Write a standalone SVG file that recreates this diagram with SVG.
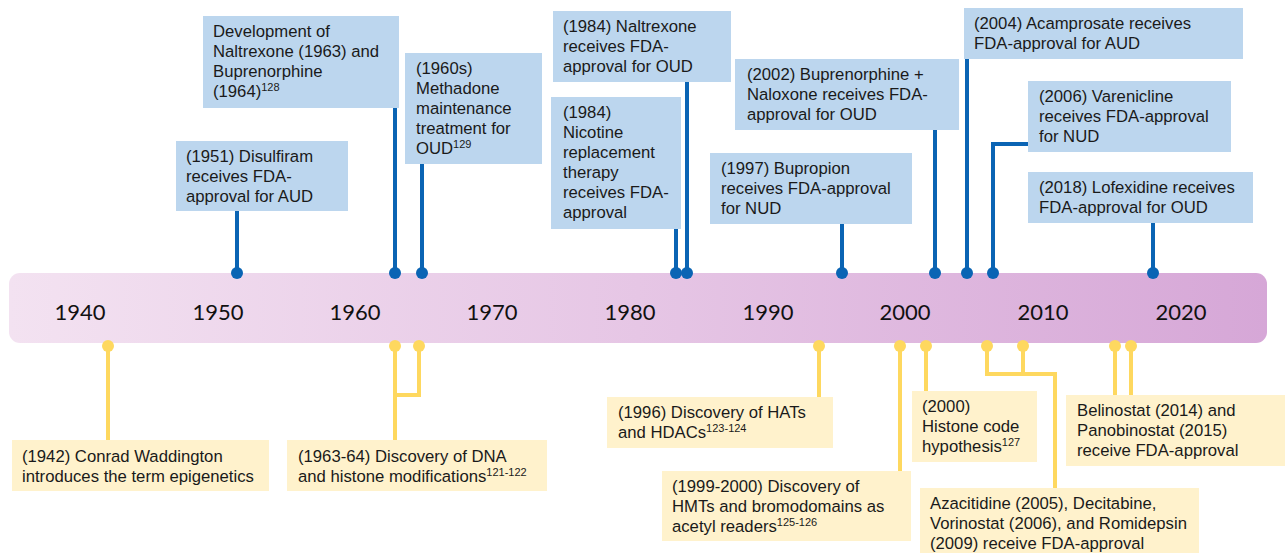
<svg xmlns="http://www.w3.org/2000/svg" width="1285" height="553" viewBox="0 0 1285 553">
<defs>
<linearGradient id="barGrad" x1="0" y1="0" x2="1" y2="0">
<stop offset="0" stop-color="#f3e2f1"/>
<stop offset="0.5" stop-color="#e6c6e5"/>
<stop offset="1" stop-color="#d6a7d7"/>
</linearGradient>
<style>
.t{font-family:"Liberation Sans",Arial,sans-serif;font-size:16.7px;fill:#1a1a1a;}
.sup{font-size:11px;}
.yr{font-family:Lato,"Open Sans",sans-serif;font-size:22px;fill:#111;text-anchor:middle;}
.bbox{fill:#bcd6ee;}
.ybox{fill:#fff2cc;}
.bl{stroke:#0a64b4;stroke-width:4;fill:none;}
.yl{stroke:#fed85f;stroke-width:4;fill:none;}
.bd{fill:#0a64b4;}
.yd{fill:#fed85f;}
</style>
</defs>
<rect id="bg" x="0" y="0" width="1285" height="553" fill="#ffffff"/>
<g id="timeline">
<rect x="9" y="273" width="1258" height="70" rx="11" fill="url(#barGrad)"/>
<text class="yr" x="80" y="320">1940</text>
<text class="yr" x="218" y="320">1950</text>
<text class="yr" x="355" y="320">1960</text>
<text class="yr" x="492" y="320">1970</text>
<text class="yr" x="630" y="320">1980</text>
<text class="yr" x="768" y="320">1990</text>
<text class="yr" x="905" y="320">2000</text>
<text class="yr" x="1043" y="320">2010</text>
<text class="yr" x="1181" y="320">2020</text>
</g>
<g id="connectors">
<path class="bl" d="M237 211V273"/>
<path class="bl" d="M395 108V273"/>
<path class="bl" d="M422 164V273"/>
<path class="bl" d="M676 229V273"/>
<path class="bl" d="M687 82V273"/>
<path class="bl" d="M842 224V273"/>
<path class="bl" d="M935 130V273"/>
<path class="bl" d="M967 59V273"/>
<path class="bl" d="M1028 144H993V273"/>
<path class="bl" d="M1153 223V273"/>
<circle class="bd" cx="237" cy="273" r="6"/>
<circle class="bd" cx="395" cy="273" r="6"/>
<circle class="bd" cx="422" cy="273" r="6"/>
<circle class="bd" cx="676" cy="273" r="6"/>
<circle class="bd" cx="687" cy="273" r="6"/>
<circle class="bd" cx="842" cy="273" r="6"/>
<circle class="bd" cx="935" cy="273" r="6"/>
<circle class="bd" cx="967" cy="273" r="6"/>
<circle class="bd" cx="993" cy="273" r="6"/>
<circle class="bd" cx="1153" cy="273" r="6"/>
<path class="yl" d="M108 346V440"/>
<path class="yl" d="M395 346V440"/>
<path class="yl" d="M419 346V395H395"/>
<path class="yl" d="M819 346V397"/>
<path class="yl" d="M900 346V471"/>
<path class="yl" d="M926 346V391"/>
<path class="yl" d="M987 346V374H1055V488"/>
<path class="yl" d="M1023 346V374"/>
<path class="yl" d="M1115 346V395"/>
<path class="yl" d="M1131 346V395"/>
<circle class="yd" cx="108" cy="346" r="6"/>
<circle class="yd" cx="395" cy="346" r="6"/>
<circle class="yd" cx="419" cy="346" r="6"/>
<circle class="yd" cx="819" cy="346" r="6"/>
<circle class="yd" cx="900" cy="346" r="6"/>
<circle class="yd" cx="926" cy="346" r="6"/>
<circle class="yd" cx="987" cy="346" r="6"/>
<circle class="yd" cx="1023" cy="346" r="6"/>
<circle class="yd" cx="1115" cy="346" r="6"/>
<circle class="yd" cx="1131" cy="346" r="6"/>
</g>
<g id="n1951">
<rect class="bbox" x="176" y="141" width="172" height="70"/>
<text class="t" x="186" y="162">(1951) Disulfiram</text>
<text class="t" x="186" y="182">receives FDA-</text>
<text class="t" x="186" y="202">approval for AUD</text>
</g>
<g id="n1963">
<rect class="bbox" x="203" y="16" width="196" height="92"/>
<text class="t" x="213" y="37">Development of</text>
<text class="t" x="213" y="57">Naltrexone (1963) and</text>
<text class="t" x="213" y="77">Buprenorphine</text>
<text class="t" x="213" y="97">(1964)<tspan class="sup" dy="-6">128</tspan></text>
</g>
<g id="n1960s">
<rect class="bbox" x="405" y="53" width="137" height="111"/>
<text class="t" x="416" y="74">(1960s)</text>
<text class="t" x="416" y="94">Methadone</text>
<text class="t" x="416" y="114">maintenance</text>
<text class="t" x="416" y="134">treatment for</text>
<text class="t" x="416" y="154">OUD<tspan class="sup" dy="-6">129</tspan></text>
</g>
<g id="n1984a">
<rect class="bbox" x="553" y="11" width="178" height="71"/>
<text class="t" x="563" y="32">(1984) Naltrexone</text>
<text class="t" x="563" y="52">receives FDA-</text>
<text class="t" x="563" y="72">approval for OUD</text>
</g>
<g id="n1984b">
<rect class="bbox" x="551" y="97" width="130" height="132"/>
<text class="t" x="563" y="118">(1984)</text>
<text class="t" x="563" y="138">Nicotine</text>
<text class="t" x="563" y="158">replacement</text>
<text class="t" x="563" y="178">therapy</text>
<text class="t" x="563" y="198">receives FDA-</text>
<text class="t" x="563" y="218">approval</text>
</g>
<g id="n2002">
<rect class="bbox" x="735" y="59" width="224" height="71"/>
<text class="t" x="747" y="80">(2002) Buprenorphine +</text>
<text class="t" x="747" y="100">Naloxone receives FDA-</text>
<text class="t" x="747" y="120">approval for OUD</text>
</g>
<g id="n1997">
<rect class="bbox" x="710" y="153" width="202" height="71"/>
<text class="t" x="721" y="174">(1997) Bupropion</text>
<text class="t" x="721" y="194">receives FDA-approval</text>
<text class="t" x="721" y="214">for NUD</text>
</g>
<g id="n2004">
<rect class="bbox" x="964" y="8" width="279" height="51"/>
<text class="t" x="974" y="29">(2004) Acamprosate receives</text>
<text class="t" x="974" y="49">FDA-approval for AUD</text>
</g>
<g id="n2006">
<rect class="bbox" x="1028" y="81" width="203" height="71"/>
<text class="t" x="1039" y="102">(2006) Varenicline</text>
<text class="t" x="1039" y="122">receives FDA-approval</text>
<text class="t" x="1039" y="142">for NUD</text>
</g>
<g id="n2018">
<rect class="bbox" x="1028" y="172" width="225" height="51"/>
<text class="t" x="1039" y="193">(2018) Lofexidine receives</text>
<text class="t" x="1039" y="213">FDA-approval for OUD</text>
</g>
<g id="e1942">
<rect class="ybox" x="12" y="440" width="257" height="51"/>
<text class="t" x="22" y="462">(1942) Conrad Waddington</text>
<text class="t" x="22" y="482">introduces the term epigenetics</text>
</g>
<g id="e1963">
<rect class="ybox" x="287" y="440" width="260" height="51"/>
<text class="t" x="298" y="462">(1963-64) Discovery of DNA</text>
<text class="t" x="298" y="482">and histone modifications<tspan class="sup" dy="-6">121-122</tspan></text>
</g>
<g id="e1996">
<rect class="ybox" x="607" y="397" width="226" height="51"/>
<text class="t" x="618" y="418">(1996) Discovery of HATs</text>
<text class="t" x="618" y="438">and HDACs<tspan class="sup" dy="-6">123-124</tspan></text>
</g>
<g id="e1999">
<rect class="ybox" x="662" y="471" width="249" height="70"/>
<text class="t" x="672" y="492">(1999-2000) Discovery of</text>
<text class="t" x="672" y="512">HMTs and bromodomains as</text>
<text class="t" x="672" y="532">acetyl readers<tspan class="sup" dy="-6">125-126</tspan></text>
</g>
<g id="e2000">
<rect class="ybox" x="912" y="391" width="125" height="71"/>
<text class="t" x="922" y="412">(2000)</text>
<text class="t" x="922" y="432">Histone code</text>
<text class="t" x="922" y="452">hypothesis<tspan class="sup" dy="-6">127</tspan></text>
</g>
<g id="e2005">
<rect class="ybox" x="920" y="488" width="279" height="72"/>
<text class="t" x="930" y="509">Azacitidine (2005), Decitabine,</text>
<text class="t" x="930" y="529">Vorinostat (2006), and Romidepsin</text>
<text class="t" x="930" y="549">(2009) receive FDA-approval</text>
</g>
<g id="e2014">
<rect class="ybox" x="1066" y="395" width="219" height="71"/>
<text class="t" x="1077" y="416">Belinostat (2014) and</text>
<text class="t" x="1077" y="436">Panobinostat (2015)</text>
<text class="t" x="1077" y="456">receive FDA-approval</text>
</g>
</svg>
